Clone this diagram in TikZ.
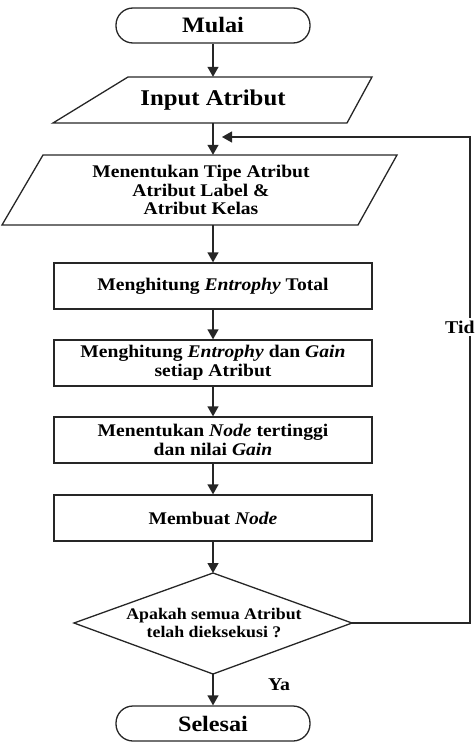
\documentclass[tikz,border=0pt]{standalone}
\usepackage{fontspec}
\setmainfont{Liberation Serif}[FakeStretch=1.1]
\usetikzlibrary{arrows.meta}
\tikzset{
  ln/.style={line width=1.3pt, draw=black!85},
  arr/.style={ln, -{Triangle[width=11pt,length=10pt]}},
  term/.style={ln, rectangle, rounded corners=17pt, minimum width=194pt, minimum height=35pt, inner sep=0pt, font=\bfseries\fontsize{22}{24}\selectfont},
  procbox/.style={ln, rectangle, minimum width=318pt, minimum height=46pt, inner sep=0pt, align=center, font=\bfseries\fontsize{17.8}{19}\selectfont},
  ghost/.style={rectangle, minimum height=#1, minimum width=200pt, inner sep=0pt, align=center},
  lbl/.style={font=\bfseries\fontsize{18}{19}\selectfont, inner sep=0pt}
}
\begin{document}
\begin{tikzpicture}[x=1pt,y=-1pt]
\useasboundingbox (0,0) rectangle (476,749);
% Terminator start
\node[term] (mulai) at (213,25.5) {Mulai};
% Input parallelogram
\draw[ln] (128,77) -- (372,77) -- (347,123) -- (53,123) -- cycle;
\node[ghost=46pt, font=\bfseries\fontsize{22.5}{24}\selectfont] (input) at (213,100) {Input Atribut};
% Menentukan tipe parallelogram
\draw[ln] (43,155) -- (397,155) -- (358,225) -- (2,225) -- cycle;
\node[ghost=70pt, font=\bfseries\fontsize{17.8}{18.3}\selectfont] (tipe) at (201,190) {Menentukan Tipe Atribut\\Atribut Label \&\\Atribut Kelas};
% Process boxes
\node[procbox] (b1) at (213,286) {Menghitung \textit{Entrophy} Total};
\node[procbox] (b2) at (213,363) {Menghitung \textit{Entrophy} dan \textit{Gain}\\setiap Atribut};
\node[procbox] (b3) at (213,440) {Menentukan \textit{Node} tertinggi\\dan nilai \textit{Gain}};
\node[procbox] (b4) at (213,518) {Membuat \textit{Node}};
% Decision
\coordinate (dN) at (213,573);
\coordinate (dE) at (352,623);
\coordinate (dS) at (213,674);
\coordinate (dW) at (74,623);
\draw[ln] (dN) -- (dE) -- (dS) -- (dW) -- cycle;
\node[inner sep=0pt, align=center, font=\bfseries\fontsize{16.2}{17.7}\selectfont] (dec) at (214,623) {Apakah semua Atribut\\telah dieksekusi ?};
% Terminator end
\node[term] (selesai) at (213,723.5) {Selesai};
% Loop coordinates
\coordinate (loopB) at (470,623);
\coordinate (loopT) at (470,137);
\coordinate (loopEnd) at (222,137);
% Connectors
\draw[arr] (mulai.south) -- (input.north);
\draw[arr] (input.south) -- (input.south |- tipe.north);
\draw[arr] (b1.north |- tipe.south) -- (b1.north);
\draw[arr] (b1.south) -- (b2.north);
\draw[arr] (b2.south) -- (b3.north);
\draw[arr] (b3.south) -- (b4.north);
\draw[arr] (b4.south) -- (dN);
\draw[arr] (dS) -- (selesai.north);
\draw[arr] (dE) -- (loopB) -- (loopT) -- (loopEnd);
% Labels
\node[lbl, fill=white, anchor=west, inner ysep=3pt] (tid) at (445,327) {Tid};
\node[lbl] (ya) at (279,685) {Ya};
\end{tikzpicture}
\end{document}
